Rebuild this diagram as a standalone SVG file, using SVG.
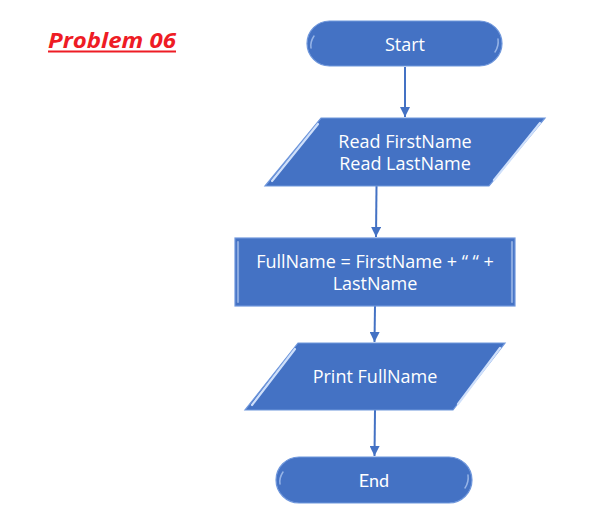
<svg xmlns="http://www.w3.org/2000/svg" width="612" height="529" viewBox="0 0 612 529">
<style>
.shape{fill:#4472C4;stroke:#6f97dc;stroke-width:1.2}
.hl{fill:none;stroke:#cfe0fb;stroke-width:2.2;stroke-linecap:round}
.hs{fill:none;stroke:#b9d0f5;stroke-width:1.5;stroke-linecap:round;opacity:0.7}
.lbl{font-family:"Open Sans","DejaVu Sans",sans-serif;font-size:18px;fill:#ffffff;text-anchor:middle}
.conn{stroke:#4472C4;stroke-width:2;fill:none}
.title{font-family:"Open Sans","Liberation Sans",sans-serif;font-size:22px;font-weight:bold;font-style:italic;fill:#ee1c25}
</style>
<defs>
<marker id="ah" viewBox="0 0 10 10" refX="10" refY="5" markerWidth="5" markerHeight="5" orient="auto" markerUnits="strokeWidth">
<path d="M0,0 L10,5 L0,10 z" fill="#4472C4"/>
</marker>
</defs>
<rect width="612" height="529" fill="#ffffff"/>
<g id="title">
<text class="title" x="48" y="48" textLength="128" lengthAdjust="spacingAndGlyphs">Problem 06</text>
<line x1="48" y1="51.5" x2="176" y2="51.5" stroke="#ee1c25" stroke-width="1.8"/>
</g>
<g id="connectors">
<line class="conn" x1="405" y1="67" x2="405" y2="117" marker-end="url(#ah)"/>
<line class="conn" x1="376.5" y1="186" x2="376" y2="237" marker-end="url(#ah)"/>
<line class="conn" x1="375" y1="306" x2="374.5" y2="342" marker-end="url(#ah)"/>
<line class="conn" x1="375" y1="410" x2="374.5" y2="456" marker-end="url(#ah)"/>
</g>
<g id="start">
<rect class="shape" x="307" y="21" width="195" height="45" rx="22.5"/>
<path class="hs" d="M314,36 Q310,42 311,48"/>
<path class="hs" d="M498,39 Q499,46 495,52"/>
<text class="lbl" x="405" y="51">Start</text>
</g>
<g id="read">
<polygon class="shape" points="321,118 545,118 489,186 265,186"/>
<line class="hl" x1="318" y1="124" x2="272" y2="181"/>
<line class="hl" x1="540" y1="123" x2="494" y2="180"/>
<text class="lbl" x="405" y="148">Read FirstName</text>
<text class="lbl" x="405" y="170">Read LastName</text>
</g>
<g id="assign">
<rect class="shape" x="235" y="238" width="280" height="68"/>
<line class="hl" x1="238" y1="242" x2="238" y2="302" opacity="0.5"/>
<line class="hl" x1="512" y1="242" x2="512" y2="302" opacity="0.5"/>
<text class="lbl" x="375" y="268">FullName = FirstName + “ “ +</text>
<text class="lbl" x="375" y="290">LastName</text>
</g>
<g id="print">
<polygon class="shape" points="298,343 505,343 453,410 245,410"/>
<line class="hl" x1="295" y1="349" x2="252" y2="405"/>
<line class="hl" x1="500" y1="348" x2="458" y2="404"/>
<text class="lbl" x="375" y="383">Print FullName</text>
</g>
<g id="end">
<rect class="shape" x="276" y="457" width="196" height="46" rx="23"/>
<path class="hs" d="M283,472 Q279,478 280,484"/>
<path class="hs" d="M468,475 Q469,482 465,488"/>
<text class="lbl" x="374" y="487" style="font-family:'Lato','Open Sans',sans-serif;font-size:18px">End</text>
</g>
</svg>
